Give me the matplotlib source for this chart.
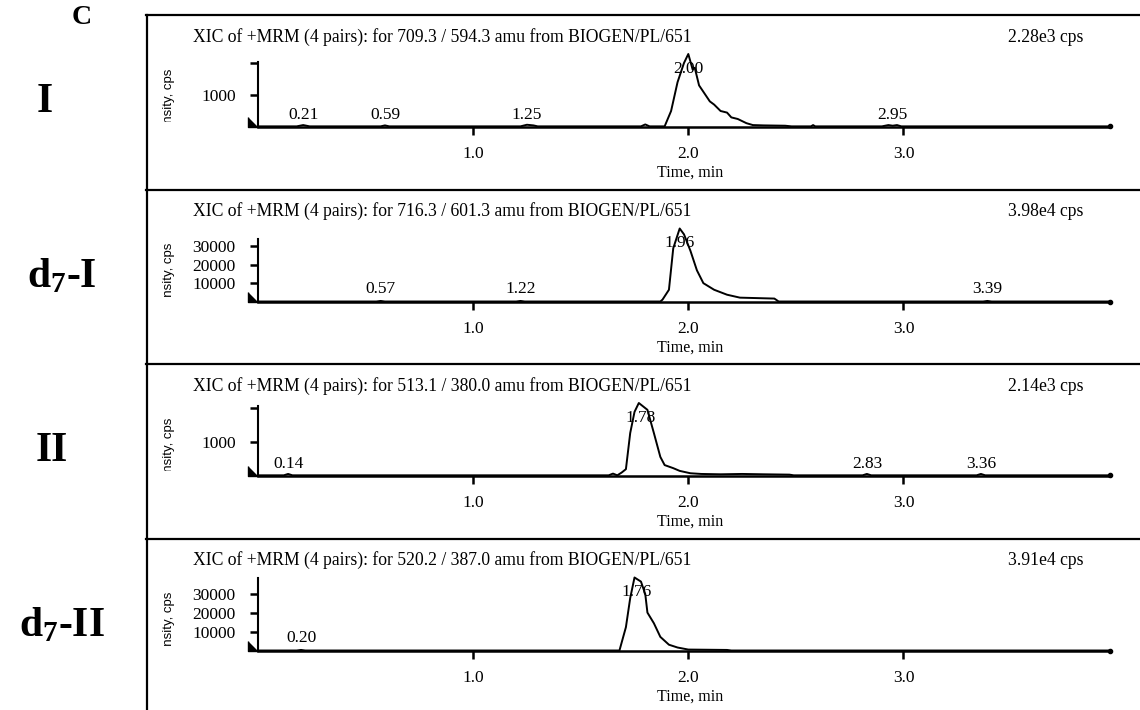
import matplotlib.pyplot as plt
from matplotlib.lines import Line2D
from matplotlib.transforms import Bbox, TransformedBbox

plt.rcParams['font.family'] = ['Liberation Serif', 'DejaVu Serif']
plt.rcParams['mathtext.fontset'] = 'custom'
plt.rcParams['mathtext.rm'] = 'Liberation Serif'
plt.rcParams['mathtext.bf'] = 'Liberation Serif:bold'

# --- data (time in min, intensity in cps) ---
t_I = [0.00, 0.18, 0.21, 0.24, 0.57, 0.59, 0.61, 1.22, 1.25, 1.28, 1.30, 1.78, 1.80, 1.82,
       1.89, 1.92, 1.95, 1.98, 2.00, 2.02, 2.03, 2.05, 2.07, 2.10, 2.12, 2.15, 2.18, 2.20,
       2.23, 2.27, 2.30, 2.35, 2.45, 2.48, 2.57, 2.58, 2.59, 2.90, 2.93, 2.95, 2.97, 2.99, 3.96]
y_I = [20, 20, 60, 20, 20, 50, 20, 20, 70, 50, 20, 20, 80, 20,
       20, 500, 1400, 2000, 2280, 1800, 1850, 1300, 1100, 800, 700, 500, 450, 300,
       250, 120, 60, 50, 40, 20, 20, 60, 20, 20, 60, 40, 60, 20, 20]

t_d7I = [0.00, 0.55, 0.57, 0.59, 1.20, 1.22, 1.24, 1.87, 1.88, 1.91, 1.93, 1.96, 1.98, 2.01,
         2.04, 2.07, 2.12, 2.18, 2.24, 2.40, 2.42, 3.37, 3.39, 3.41, 3.96]
y_d7I = [0, 0, 300, 0, 0, 300, 0, 0, 1000, 6400, 29000, 39800, 36600, 27600,
         17000, 10000, 6400, 3700, 2100, 1600, 0, 0, 300, 0, 0]

t_II = [0.00, 0.12, 0.14, 0.16, 1.63, 1.65, 1.67, 1.69, 1.71, 1.73, 1.75, 1.77, 1.81, 1.84,
        1.87, 1.89, 1.93, 1.96, 2.01, 2.06, 2.15, 2.25, 2.35, 2.47, 2.49, 2.81, 2.83, 2.85,
        3.34, 3.36, 3.38, 3.96]
y_II = [20, 20, 60, 20, 20, 70, 20, 100, 200, 1260, 1880, 2140, 1940, 1260,
        560, 320, 230, 150, 80, 60, 50, 60, 50, 40, 20, 20, 60, 20,
        20, 60, 20, 20]

t_d7II = [0.00, 0.18, 0.20, 0.22, 1.68, 1.71, 1.73, 1.75, 1.78, 1.80, 1.81, 1.84, 1.87, 1.91,
          1.95, 2.00, 2.18, 2.20, 3.96]
y_d7II = [0, 0, 300, 0, 0, 12500, 28100, 39100, 36900, 30200, 20300, 14600, 7300, 3100,
          1600, 500, 300, 0, 0]

times = [t_I, t_d7I, t_II, t_d7II]
intens = [y_I, y_d7I, y_II, y_d7II]
names = ['I', r'$\mathbf{d_7}$-I', 'II', r'$\mathbf{d_7}$-II']
transitions = ['709.3 / 594.3', '716.3 / 601.3', '513.1 / 380.0', '520.2 / 387.0']
max_cps = ['2.28e3 cps', '3.98e4 cps', '2.14e3 cps', '3.91e4 cps']
main_rt = [2.00, 1.96, 1.78, 1.76]
minor_rt = [[0.21, 0.59, 1.25, 2.95], [0.57, 1.22, 3.39], [0.14, 2.83, 3.36], [0.20]]
yticks = [[1000, 2000], [10000, 20000, 30000], [1000, 2000], [10000, 20000, 30000]]
ytick_labels = [['1000', ''], ['10000', '20000', '30000'], ['1000', ''], ['10000', '20000', '30000']]
yaxis_top = [2030, 34000, 2050, 39100]
xticks = [1.0, 2.0, 3.0]

W, H = 1140, 710
fig = plt.figure(figsize=(W / 100, H / 100), dpi=100)

def fx(px):
    return px / W

def fy(py):
    return 1 - py / H

name_x = [45, 62, 52, 62]
panel_h = 174.5
for i in range(4):
    top = 15 + panel_h * i
    base = top + 112
    ax = fig.add_axes([fx(258), fy(base), fx(1110) - fx(258), 73 / H])
    ax.patch.set_visible(False)
    ax.plot(times[i], intens[i], color='black', lw=1.4, clip_on=False)
    ax.plot(times[i][-1], intens[i][-1], 'o', ms=3, color='black', clip_on=False)
    ax.plot(0, 0, marker=[(-1, 1), (-1, 0), (0, 0)], ms=14, color='black', clip_on=False)
    ax.set_xlim(0, 3.96)
    ax.set_ylim(0, max(intens[i]))
    ax.spines['top'].set_visible(False)
    ax.spines['right'].set_visible(False)
    ax.spines['left'].set_bounds(0, yaxis_top[i])
    ax.spines['left'].set_linewidth(1.5)
    ax.spines['bottom'].set_linewidth(1.8)
    ax.set_xticks(xticks, ['%.1f' % v for v in xticks])
    ax.set_yticks(yticks[i], ytick_labels[i])
    ax.tick_params(direction='out', length=6, width=1.8, labelsize=12.5)
    ax.tick_params(axis='x', pad=8)
    ax.tick_params(axis='y', pad=10)

    ax.text(main_rt[i], 0.8 * max(intens[i]), '%.2f' % main_rt[i], ha='center', va='center', fontsize=12.5)
    for rt in minor_rt[i]:
        ax.annotate('%.2f' % rt, (rt, 0), xytext=(0, 3), textcoords='offset points',
                    ha='center', va='bottom', fontsize=12.5)

    # header line of each trace
    fig.text(fx(193), fy(top + 22), 'XIC of +MRM (4 pairs): for %s amu from BIOGEN/PL/651' % transitions[i],
             ha='left', va='center', fontsize=12.7)
    fig.text(fx(1083), fy(top + 22), max_cps[i], ha='right', va='center', fontsize=12.7)
    fig.text(fx(690), fy(top + 158), 'Time, min', ha='center', va='center', fontsize=11.5)

    # y label is cut off in the original
    yl = fig.text(fx(169), fy(top + 91.5), 'Intensity, cps', rotation=90, ha='center', va='center',
                  fontsize=9.5, family='Liberation Sans', clip_on=True)
    yl.set_clip_box(TransformedBbox(Bbox([[fx(150), fy(top + 107)], [fx(250), fy(top + 2)]]), fig.transFigure))

    # compound label on the left
    fig.text(fx(name_x[i]), fy(top + 87), names[i], ha='center', va='center', fontsize=30, fontweight='bold')

    fig.add_artist(Line2D([fx(146), 1.0], [fy(top), fy(top)], color='black', lw=1.6))

fig.add_artist(Line2D([fx(147), fx(147)], [fy(15), 0], color='black', lw=1.6))
fig.text(fx(82), fy(18), 'C', ha='center', va='center', fontsize=20, fontweight='bold')

plt.savefig('out.png', dpi=100)
